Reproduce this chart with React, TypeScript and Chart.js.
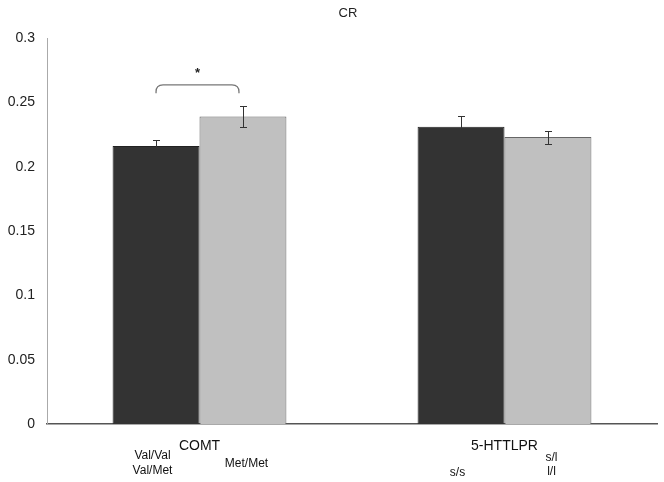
import React, { useEffect, useRef } from "react";
import { Chart, registerables } from "chart.js";

Chart.register(...registerables);

const title = "CR";
const categories = ["COMT", "5-HTTLPR"];
const seriesNames = ["Group 1", "Group 2"];
const darkValues = [0.216, 0.231];
const darkErrors = [0.005, 0.008];
const lightValues = [0.239, 0.223];
const lightErrors = [0.008, 0.005];
const yTicks = [0, 0.05, 0.1, 0.15, 0.2, 0.25, 0.3];
const yTickLabels = ["0", "0.05", "0.1", "0.15", "0.2", "0.25", "0.3"];
// sub-labels: [category index, text, side(-1 left, 1 right), line]
const subLabels: [number, string, number, number][] = [
  [0, "Val/Val", -1, 0],
  [0, "Val/Met", -1, 1],
  [0, "Met/Met", 1, 0.5],
  [1, "s/s", -1, 1.1],
  [1, "s/l", 1, 0.1],
  [1, "l/l", 1, 1.05],
];
const sigBracket = { category: 0, low: 0.257, high: 0.264, starAt: 0.274, mark: "*" };

const FONT = "'Liberation Sans', Arial, sans-serif";

const overlayPlugin = {
  id: "overlay",
  afterDatasetsDraw(chart: any) {
    const ctx = chart.ctx;
    const y = chart.scales.y;
    const x = chart.scales.x;
    ctx.save();
    // error bars
    chart.data.datasets.forEach((ds: any, di: number) => {
      const meta = chart.getDatasetMeta(di);
      const errs = di === 0 ? darkErrors : lightErrors;
      meta.data.forEach((bar: any, i: number) => {
        const v = ds.data[i];
        const e = errs[i];
        const cx = Math.round(bar.x);
        const yt = Math.round(y.getPixelForValue(v + e));
        const yb = Math.round(y.getPixelForValue(v - e));
        ctx.strokeStyle = "#333";
        ctx.lineWidth = 1;
        ctx.beginPath();
        ctx.moveTo(cx + 0.5, yt);
        ctx.lineTo(cx + 0.5, yb);
        ctx.moveTo(cx - 3, yt + 0.5);
        ctx.lineTo(cx + 4, yt + 0.5);
        ctx.moveTo(cx - 3, yb + 0.5);
        ctx.lineTo(cx + 4, yb + 0.5);
        ctx.stroke();
      });
    });
    // bracket
    const m0 = chart.getDatasetMeta(0).data[sigBracket.category];
    const m1 = chart.getDatasetMeta(1).data[sigBracket.category];
    const lx = m0.x;
    const rx = m1.x - 4;
    const ty = y.getPixelForValue(sigBracket.high) + 0.5;
    const by = y.getPixelForValue(sigBracket.low);
    const r = 7;
    ctx.strokeStyle = "#777";
    ctx.lineWidth = 1.3;
    ctx.beginPath();
    ctx.moveTo(lx, by);
    ctx.lineTo(lx, ty + r);
    ctx.quadraticCurveTo(lx, ty, lx + r, ty);
    ctx.lineTo(rx - r, ty);
    ctx.quadraticCurveTo(rx, ty, rx, ty + r);
    ctx.lineTo(rx, by);
    ctx.stroke();
    ctx.fillStyle = "#222";
    ctx.font = `bold 13px ${FONT}`;
    ctx.textAlign = "center";
    ctx.textBaseline = "middle";
    ctx.fillText(sigBracket.mark, (lx + rx) / 2, y.getPixelForValue(sigBracket.starAt) + 2);

    // title
    ctx.font = `13px ${FONT}`;
    ctx.fillStyle = "#222";
    ctx.fillText(title, (chart.chartArea.left + chart.chartArea.right) / 2 - 4, 13);

    // category labels
    const base = chart.chartArea.bottom;
    categories.forEach((c, i) => {
      const cx = x.getPixelForValue(i);
      ctx.font = `14px ${FONT}`;
      ctx.fillStyle = "#111";
      ctx.fillText(c, cx, base + 22);
    });
    subLabels.forEach(([ci, t, side, line]) => {
      const cx = x.getPixelForValue(ci);
      ctx.font = `12px ${FONT}`;
      ctx.fillStyle = "#111";
      ctx.fillText(t, cx + side * 47, base + 32 + line * 15);
    });
    ctx.restore();
  },
};

export default function App() {
  const ref = useRef<HTMLCanvasElement | null>(null);
  useEffect(() => {
    if (!ref.current) return;
    const chart = new Chart(ref.current, {
      type: "bar",
      data: {
        labels: categories,
        datasets: [
          {
            label: seriesNames[0],
            data: darkValues,
            backgroundColor: "#333333",
            borderColor: "#222222",
            borderWidth: 1,
            categoryPercentage: 0.57,
            barPercentage: 1,
          },
          {
            label: seriesNames[1],
            data: lightValues,
            backgroundColor: "#c0c0c0",
            borderColor: "#666666",
            borderWidth: 1,
            categoryPercentage: 0.57,
            barPercentage: 1,
          },
        ],
      },
      options: {
        animation: false,
        responsive: false,
        layout: { padding: { top: 38, right: 7, left: 0, bottom: 0 } },
        plugins: { legend: { display: false }, tooltip: { enabled: false }, title: { display: false } },
        scales: {
          x: {
            grid: { display: false, drawTicks: false },
            border: { display: true, color: "#555", width: 1.5 },
            ticks: { display: false },
            afterFit: (s: any) => {
              s.height = 58;
            },
          },
          y: {
            min: 0,
            max: 0.3,
            grid: { display: false, drawTicks: false },
            border: { display: true, color: "#aaa", width: 1 },
            afterBuildTicks: (s: any) => {
              s.ticks = yTicks.map((v) => ({ value: v }));
            },
            ticks: {
              padding: 12,
              color: "#222",
              font: { family: FONT, size: 14 },
              callback: (v: any) => {
                const i = yTicks.findIndex((t) => Math.abs(t - v) < 1e-9);
                return i >= 0 ? yTickLabels[i] : "";
              },
            },
            afterFit: (s: any) => {
              s.width = 47;
            },
          },
        },
      },
      plugins: [overlayPlugin],
    });
    return () => chart.destroy();
  }, []);
  return (
    <div style={{ position: "fixed", left: 0, top: 0, width: 664, height: 482, background: "#fff" }}>
      <canvas ref={ref} width={664} height={482} style={{ width: 664, height: 482 }} />
    </div>
  );
}
